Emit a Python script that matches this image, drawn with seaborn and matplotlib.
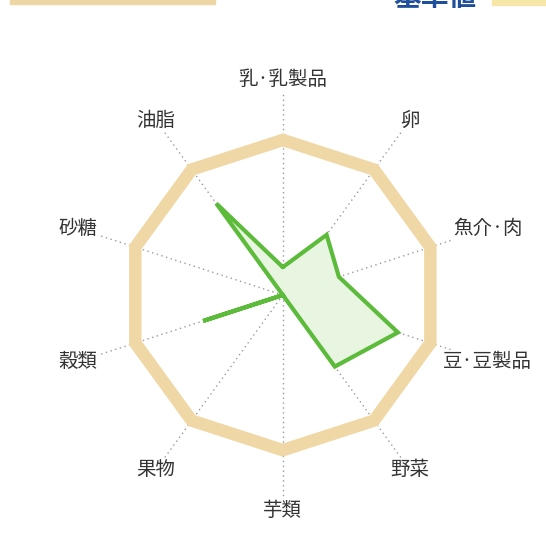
import numpy as np
import pandas as pd
import matplotlib
matplotlib.use("Agg")
import matplotlib.pyplot as plt
import seaborn as sns

categories = ["乳·乳製品", "卵", "魚介·肉", "豆·豆製品", "野菜",
              "芋類", "果物", "穀類", "砂糖", "油脂"]
intake = [0.18, 0.48, 0.38, 0.78, 0.57, 0.0, 0.0, 0.54, 0.0, 0.73]
standard = [1.0] * 10
title_text = "基準値"

sns.set_theme(style="white")
plt.rcParams["font.family"] = ["Noto Sans CJK JP", "DejaVu Sans"]

fig = plt.figure(figsize=(5.46, 5.33), dpi=100)
ax = fig.add_axes([0.106, 0.0244, 0.824, 0.844], projection="polar")
ax.set_theta_zero_location("N")
ax.set_theta_direction(-1)

n = len(categories)
angles = np.linspace(0, 2 * np.pi, n, endpoint=False)
ang_closed = np.append(angles, angles[0] + 2 * np.pi)
df_int = pd.DataFrame({"theta": ang_closed, "r": intake + intake[:1],
                       "order": np.arange(n + 1)})
df_std = pd.DataFrame({"theta": ang_closed, "r": standard + standard[:1],
                       "order": np.arange(n + 1)})

# spokes
for a in angles:
    ax.plot([a, a], [0, 1.3], color="#9a9a9a", lw=1.0, ls=(0, (1, 2.5)), zorder=1)

# standard decagon
sns.lineplot(data=df_std, x="theta", y="r", sort=False, estimator=None, ax=ax,
             color="#F0D8A6", lw=9, zorder=2, solid_joinstyle="miter")

# intake polygon
ax.fill(df_int["theta"], df_int["r"], color="#E8F5E0", zorder=3)
sns.lineplot(data=df_int, x="theta", y="r", sort=False, estimator=None, ax=ax,
             color="#5DBB3C", lw=3, zorder=4, solid_joinstyle="miter")

for a, lab in zip(angles, categories):
    ax.text(a, 1.39, lab, ha="center", va="center", fontsize=14, color="#333333",
            bbox=dict(facecolor="white", edgecolor="none", pad=1), zorder=5)

ax.set_ylim(0, 1.45)
ax.set_xticks([])
ax.set_yticks([])
ax.grid(False)
ax.spines["polar"].set_visible(False)
ax.set_xlabel("")
ax.set_ylabel("")
ax.patch.set_alpha(0)

# cropped header pieces
fig.patches.append(plt.Rectangle((10 / 546, 1 - 4 / 533), 205 / 546, 4 / 533,
                                 transform=fig.transFigure, color="#EED6A4"))
fig.patches.append(plt.Rectangle((492 / 546, 1 - 5 / 533), 54 / 546, 5 / 533,
                                 transform=fig.transFigure, color="#F6E6A8"))
fig.text(435 / 546, 1.0 + 2 / 533, title_text, ha="center", va="center",
         fontsize=20, fontweight="bold", color="#1F4E9A")

fig.savefig("out.png", dpi=100)
